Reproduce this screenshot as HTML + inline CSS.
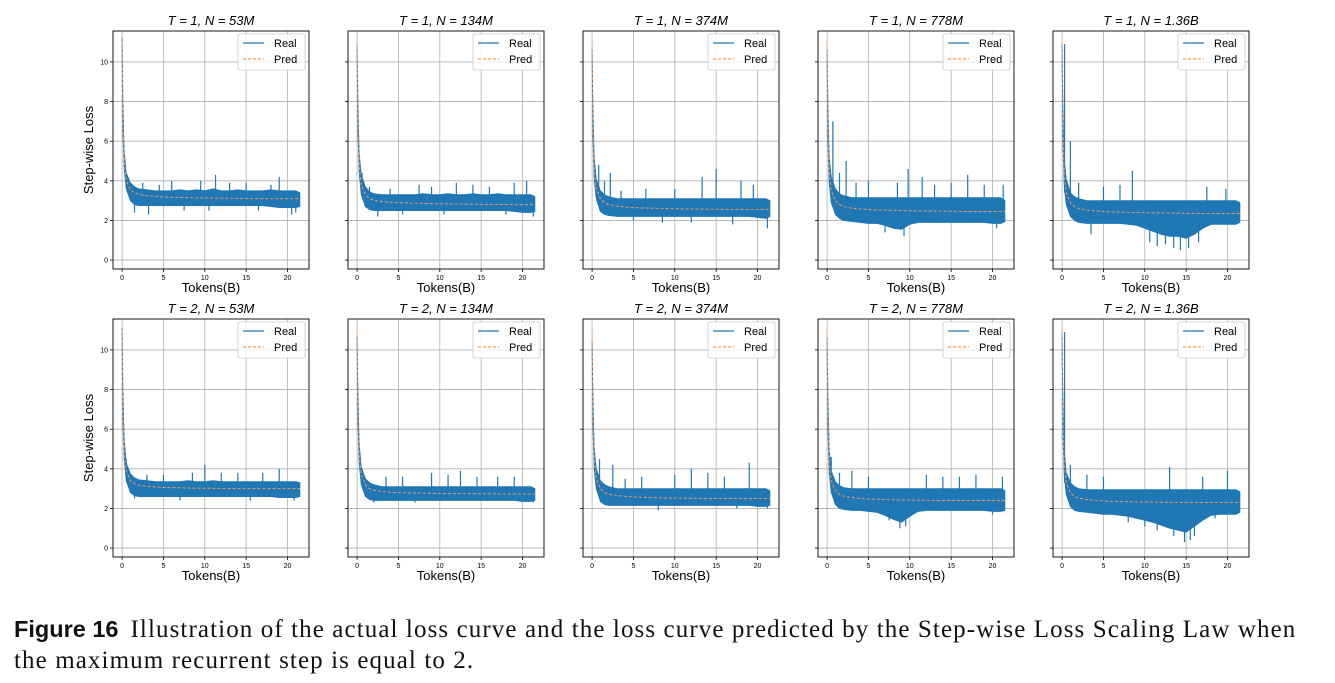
<!DOCTYPE html>
<html><head><meta charset="utf-8"><style>
body{margin:0;background:#fff;width:1335px;height:683px;overflow:hidden;font-family:"Liberation Sans",sans-serif}
#cap{position:absolute;left:14px;top:614px;font-family:"Liberation Serif",serif;font-size:25px;letter-spacing:1.1px;line-height:31px;color:#111;white-space:nowrap}
#cap b{font-family:"Liberation Sans",sans-serif;font-size:23.5px;letter-spacing:0;margin-right:12px}
</style></head><body>
<svg id="fig" width="1335" height="600" style="position:absolute;left:0;top:0"></svg>
<div id="cap"><b>Figure 16</b>Illustration of the actual loss curve and the loss curve predicted by the Step-wise Loss Scaling Law when<br>the maximum recurrent step is equal to 2.</div>
<script>
const tokens=[0,0.1,0.25,0.5,1,1.5,2,3,4,5,6,7,8,9,10,11,12,13,14,15,16,17,18,19,20,21,21.5];
const titles=["T = 1, N = 53M","T = 1, N = 134M","T = 1, N = 374M","T = 1, N = 778M","T = 1, N = 1.36B","T = 2, N = 53M","T = 2, N = 134M","T = 2, N = 374M","T = 2, N = 778M","T = 2, N = 1.36B"];
const yTicks=[0,2,4,6,8,10];
const xTicks=[0,5,10,15,20];
const pred=[
[11,7,5,4,3.55,3.4,3.32,3.25,3.21,3.19,3.17,3.16,3.15,3.14,3.14,3.13,3.12,3.12,3.11,3.11,3.1,3.1,3.1,3.1,3.1,3.1,3.1],
[11,7,4.8,3.8,3.3,3.1,3.02,2.95,2.92,2.9,2.88,2.87,2.86,2.85,2.84,2.83,2.83,2.82,2.82,2.81,2.81,2.8,2.8,2.8,2.8,2.8,2.8],
[11,6.8,4.6,3.6,3.1,2.9,2.8,2.72,2.68,2.65,2.63,2.62,2.61,2.6,2.59,2.58,2.58,2.57,2.57,2.56,2.56,2.55,2.55,2.55,2.55,2.55,2.55],
[11,6.8,4.5,3.5,3,2.8,2.7,2.62,2.58,2.55,2.53,2.52,2.51,2.5,2.49,2.48,2.48,2.47,2.47,2.46,2.46,2.45,2.45,2.45,2.45,2.45,2.45],
[11,6.7,4.4,3.4,2.9,2.7,2.6,2.52,2.48,2.45,2.43,2.42,2.41,2.4,2.39,2.38,2.38,2.37,2.37,2.36,2.36,2.35,2.35,2.35,2.35,2.35,2.35],
[11,6.9,4.9,3.9,3.4,3.25,3.18,3.12,3.08,3.06,3.05,3.04,3.03,3.02,3.02,3.01,3.01,3,3,3,3,3,3,3,3,3,3],
[11,6.8,4.7,3.7,3.2,3,2.92,2.86,2.82,2.8,2.79,2.78,2.77,2.76,2.76,2.75,2.75,2.75,2.74,2.74,2.74,2.73,2.73,2.73,2.73,2.73,2.73],
[11,6.7,4.5,3.5,3,2.8,2.72,2.65,2.61,2.58,2.56,2.55,2.54,2.53,2.52,2.52,2.51,2.51,2.5,2.5,2.5,2.5,2.5,2.5,2.5,2.5,2.5],
[11,6.7,4.4,3.4,2.9,2.7,2.62,2.55,2.5,2.48,2.46,2.45,2.44,2.43,2.42,2.42,2.41,2.41,2.4,2.4,2.4,2.4,2.4,2.4,2.4,2.4,2.4],
[11,6.6,4.3,3.3,2.8,2.6,2.52,2.45,2.41,2.38,2.36,2.35,2.34,2.33,2.32,2.32,2.31,2.31,2.3,2.3,2.3,2.3,2.3,2.3,2.3,2.3,2.3]];
const hi=[
[11.2,8,5.5,4.4,3.9,3.7,3.6,3.55,3.5,3.5,3.5,3.55,3.5,3.55,3.5,3.6,3.5,3.5,3.55,3.5,3.5,3.5,3.55,3.5,3.5,3.5,3.4],
[10.8,8,5.4,4.3,3.7,3.45,3.35,3.3,3.3,3.3,3.3,3.3,3.35,3.3,3.3,3.35,3.3,3.3,3.35,3.3,3.3,3.35,3.3,3.3,3.3,3.3,3.2],
[10.6,7.8,5.2,4.1,3.5,3.3,3.2,3.1,3.1,3.1,3.1,3.1,3.1,3.1,3.1,3.1,3.1,3.1,3.1,3.1,3.1,3.1,3.1,3.1,3.1,3.1,3.0],
[10.6,7.8,5.2,4.2,3.6,3.35,3.25,3.15,3.15,3.15,3.15,3.15,3.15,3.15,3.15,3.15,3.15,3.15,3.15,3.15,3.15,3.15,3.15,3.15,3.15,3.15,3.0],
[10.9,7.8,5.1,4.1,3.4,3.2,3.1,3.0,3.0,3.0,3.0,3.0,3.0,3.0,3.0,3.0,3.0,3.0,3.0,3.0,3.0,3.0,3.0,3.0,3.0,3.0,2.9],
[11.1,8,5.5,4.3,3.75,3.55,3.45,3.4,3.35,3.35,3.35,3.35,3.4,3.35,3.35,3.4,3.35,3.35,3.35,3.35,3.35,3.35,3.35,3.35,3.35,3.35,3.3],
[10.7,7.9,5.3,4.1,3.5,3.3,3.2,3.1,3.1,3.1,3.1,3.1,3.1,3.1,3.1,3.1,3.1,3.1,3.1,3.1,3.1,3.1,3.1,3.1,3.1,3.1,3.0],
[10.5,7.7,5.1,4.0,3.4,3.2,3.1,3.0,3.0,3.0,3.0,3.0,3.0,3.0,3.0,3.0,3.0,3.0,3.0,3.0,3.0,3.0,3.0,3.0,3.0,3.0,2.9],
[10.6,7.7,5,3.9,3.35,3.15,3.05,3.0,3.0,3.0,3.0,3.0,3.0,3.0,3.0,3.0,3.0,3.0,3.0,3.0,3.0,3.0,3.0,3.0,3.0,3.0,2.9],
[10.8,7.6,5,3.8,3.3,3.1,3.0,2.95,2.95,2.95,2.95,2.95,2.95,2.95,2.95,2.95,2.95,2.95,2.95,2.95,2.95,2.95,2.95,2.95,2.95,2.95,2.85]];
const lo=[
[10.8,6.5,4.6,3.6,3.0,2.8,2.75,2.75,2.75,2.75,2.75,2.75,2.75,2.75,2.75,2.75,2.75,2.75,2.75,2.75,2.75,2.75,2.7,2.65,2.65,2.65,2.7],
[10.6,6.4,4.4,3.3,2.7,2.55,2.5,2.5,2.5,2.5,2.5,2.5,2.5,2.5,2.5,2.5,2.5,2.5,2.5,2.5,2.5,2.5,2.5,2.45,2.4,2.4,2.45],
[10.4,6.2,4.1,3.1,2.45,2.3,2.25,2.2,2.2,2.2,2.2,2.2,2.2,2.2,2.2,2.2,2.2,2.2,2.2,2.2,2.2,2.2,2.2,2.2,2.15,2.1,2.2],
[10.4,6,3.9,2.9,2.3,2.1,2.0,1.95,1.9,1.85,1.85,1.75,1.6,1.55,1.8,1.9,1.9,1.9,1.9,1.9,1.9,1.9,1.9,1.9,1.85,1.85,1.95],
[10.6,6,3.8,2.8,2.2,2.0,1.9,1.85,1.85,1.85,1.85,1.85,1.8,1.75,1.6,1.45,1.3,1.2,1.2,1.1,1.3,1.6,1.8,1.8,1.8,1.8,1.9],
[10.8,6.4,4.5,3.4,2.8,2.65,2.6,2.6,2.6,2.6,2.6,2.6,2.6,2.6,2.6,2.6,2.6,2.6,2.6,2.6,2.6,2.6,2.6,2.55,2.55,2.55,2.6],
[10.5,6.3,4.3,3.2,2.6,2.45,2.4,2.4,2.4,2.4,2.4,2.4,2.4,2.4,2.4,2.4,2.4,2.4,2.4,2.4,2.4,2.4,2.4,2.4,2.35,2.35,2.4],
[10.3,6.1,4,3,2.35,2.2,2.15,2.15,2.15,2.15,2.15,2.15,2.15,2.15,2.15,2.15,2.15,2.15,2.15,2.15,2.15,2.15,2.15,2.15,2.1,2.1,2.15],
[10.3,6,3.8,2.8,2.2,2.0,1.95,1.9,1.9,1.85,1.8,1.65,1.45,1.3,1.6,1.85,1.9,1.9,1.9,1.9,1.9,1.9,1.9,1.9,1.85,1.85,1.9],
[10.5,5.9,3.7,2.7,2.1,1.9,1.85,1.8,1.75,1.7,1.7,1.65,1.6,1.5,1.4,1.3,1.15,1.0,0.9,0.8,1.1,1.4,1.65,1.7,1.7,1.7,1.8]];
const spikes=[
[[1.5,2.4],[3.2,2.3],[9.5,4.0],[11.3,4.3],[19,4.2],[20.5,2.3],[2.5,3.9],[4.5,3.8],[6,4.0],[7.5,2.5],[13,3.9],[15,3.9],[16.5,2.5],[18,3.8],[21,2.4],[10.5,2.5]],
[[0.6,4.4],[2.5,2.2],[7.5,3.8],[12,3.9],[20.5,4.0],[21.3,2.2],[1.5,3.7],[4,3.6],[5.5,2.3],[9,3.7],[10.5,2.3],[14,3.8],[16,3.7],[18,2.3],[19,3.9]],
[[0.8,4.8],[2.2,4.4],[13.3,4.2],[15,4.6],[18,4.0],[21.2,1.6],[1.5,4.0],[3.5,3.5],[5,2.0],[6.5,3.6],[8.5,1.9],[10,3.6],[12,1.9],[17,1.8],[19.5,3.8]],
[[0.7,7.0],[2.3,5.0],[9.8,4.6],[11.5,4.2],[17,4.3],[21.3,3.8],[1.5,4.4],[3.5,3.9],[5,4.0],[7,1.4],[8.5,3.9],[9.3,1.2],[13,3.8],[15,3.9],[19,3.8],[20.5,1.6]],
[[0.3,10.9],[1.0,6.0],[8.5,4.5],[14.3,0.5],[15.3,0.6],[19.8,3.6],[2,3.9],[3.5,1.3],[5,3.7],[10.6,0.9],[11.5,0.7],[12.5,0.8],[13.5,0.6],[16.5,0.9],[17.5,3.7],[7,3.8]],
[[0.5,4.5],[1.5,2.5],[10,4.2],[12,3.8],[19,4.0],[20.8,2.4],[3,3.7],[5,3.7],[7,2.4],[8.5,3.8],[14,3.8],[15.5,2.4],[17,3.8]],
[[0.6,4.0],[2,2.3],[9,3.8],[12.5,3.9],[17,3.6],[21.3,2.3],[3.5,3.6],[5.5,3.6],[7,2.3],[11,3.7],[14.5,3.6],[19,3.6]],
[[0.9,4.5],[2.5,4.2],[12,4.0],[19,4.3],[21.2,2.0],[14,3.8],[4,3.5],[6,3.6],[8,1.9],[10,3.7],[16,3.6],[17.5,2.0]],
[[0.5,4.6],[3,3.9],[8.8,1.0],[12,3.7],[18,3.7],[21.2,3.6],[1.5,3.8],[5,3.6],[7.5,1.4],[9.5,1.1],[14,3.6],[16,3.6],[20,1.7]],
[[0.3,10.9],[1,4.2],[13,4.1],[14.8,0.3],[16,0.6],[20,3.9],[3,3.7],[5,3.6],[8,1.3],[10,1.1],[11.5,0.9],[13.5,0.6],[15.5,0.4],[17,3.6],[18.5,1.5]]];
const NS="http://www.w3.org/2000/svg";
const svg=document.getElementById('fig');
function mk(tag,attrs,parent){const e=document.createElementNS(NS,tag);for(const k in attrs)e.setAttribute(k,attrs[k]);(parent||svg).appendChild(e);return e;}
const colX=[113,348,583,818,1053],rowY=[31,319],W=196,H=238;
const xmin=-1.1,xmax=22.6,ymin=-0.45,ymax=11.56;
for(let p=0;p<10;p++){
  const r=Math.floor(p/5),c=p%5,L=colX[c],T=rowY[r];
  const sx=v=>L+(v-xmin)/(xmax-xmin)*W, sy=v=>T+H-(v-ymin)/(ymax-ymin)*H;
  const g=mk('g',{});
  
  
  xTicks.forEach(t=>{mk('line',{x1:sx(t),x2:sx(t),y1:T,y2:T+H,stroke:'#b0b0b0','stroke-width':0.8},g);mk('line',{x1:sx(t),x2:sx(t),y1:T+H,y2:T+H+3,stroke:'#000','stroke-width':0.8},g);
    const tl=mk('text',{x:sx(t),y:T+H+11,'font-size':7,'text-anchor':'middle',fill:'#000'},g);tl.textContent=t;
    
    });
  yTicks.forEach(t=>{mk('line',{x1:L,x2:L+W,y1:sy(t),y2:sy(t),stroke:'#b0b0b0','stroke-width':0.8},g);mk('line',{x1:L-3,x2:L,y1:sy(t),y2:sy(t),stroke:'#000','stroke-width':0.8},g);
    if(c===0){const tl=mk('text',{x:L-5,y:sy(t)+2.5,'font-size':7,'text-anchor':'end',fill:'#000'},g);tl.textContent=t;
    
    }});
  let top=tokens.map((x,i)=>sx(x)+','+sy(hi[p][i])).join(' ');
  let bot=tokens.map((x,i)=>sx(x)+','+sy(lo[p][i])).reverse().join(' ');
  const band=mk('polygon',{points:top+' '+bot,fill:'#1f77b4',stroke:'#1f77b4','stroke-width':0.8},g);
  
  
  spikes[p].forEach(s=>{const i=tokens.findIndex(x=>x>=s[0]);const base=pred[p][Math.max(0,i)];
    const sp=mk('line',{x1:sx(s[0]),x2:sx(s[0]),y1:sy(base),y2:sy(s[1]),stroke:'#1f77b4','stroke-width':1.2},g);
    
    });
  const pl=mk('polyline',{points:tokens.map((x,i)=>sx(x)+','+sy(pred[p][i])).join(' '),fill:'none',stroke:'#ff9f5a','stroke-width':1,'stroke-dasharray':'3,2','stroke-opacity':0.9},g);
  
  
  mk('rect',{x:L,y:T,width:W,height:H,fill:'none',stroke:'#000','stroke-width':0.9},g);
  const lg=mk('g',{},g);
  
  
  mk('rect',{x:L+125,y:T+3,width:67,height:36,rx:2,fill:'#fff','fill-opacity':0.85,stroke:'#ccc','stroke-width':0.8},lg);
  mk('line',{x1:L+130,x2:L+151,y1:T+12,y2:T+12,stroke:'#1f77b4','stroke-width':1.2},lg);
  mk('line',{x1:L+130,x2:L+151,y1:T+28,y2:T+28,stroke:'#ff7f0e','stroke-width':1,'stroke-dasharray':'3,2'},lg);
  const t1=mk('text',{x:L+161,y:T+16,'font-size':11,fill:'#000'},lg);t1.textContent='Real';
  const t2=mk('text',{x:L+161,y:T+32,'font-size':11,fill:'#000'},lg);t2.textContent='Pred';
  const tt=mk('text',{x:L+W/2,y:T-6,'font-size':13,'text-anchor':'middle','font-style':'italic',fill:'#000'},g);tt.textContent=titles[p];
  
  
  const xl=mk('text',{x:L+W/2,y:T+H+23,'font-size':13,'text-anchor':'middle',fill:'#000'},g);xl.textContent='Tokens(B)';
  
  
  if(c===0){const yl=mk('text',{x:0,y:0,'font-size':13,'text-anchor':'middle',fill:'#000',transform:'translate('+(L-20)+','+(T+H/2)+') rotate(-90)'},g);yl.textContent='Step-wise Loss';
  
  }
}
</script>
</body></html>
